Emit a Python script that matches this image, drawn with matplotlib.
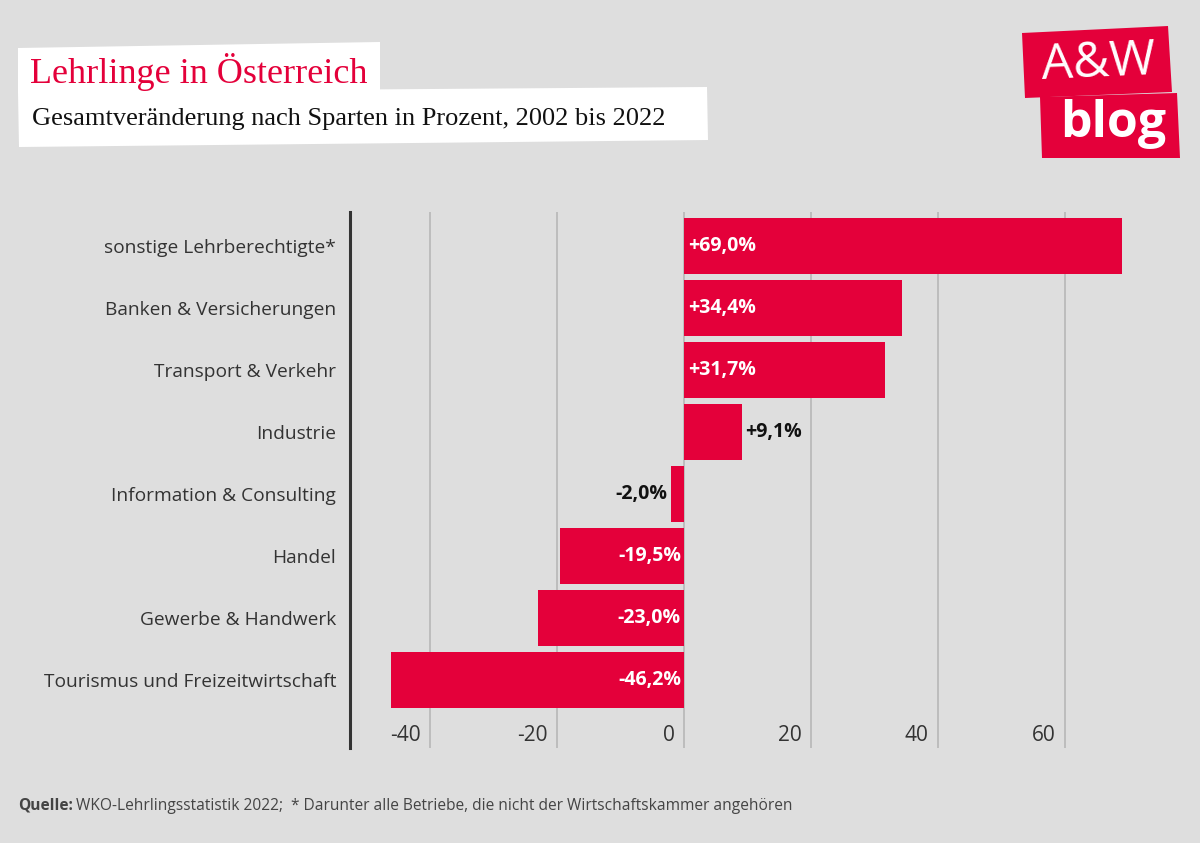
import numpy as np
import matplotlib.pyplot as plt
from matplotlib.patches import Polygon
from matplotlib.transforms import ScaledTranslation

# data
categories = [
    "sonstige Lehrberechtigte*", "Banken & Versicherungen", "Transport & Verkehr",
    "Industrie", "Information & Consulting", "Handel", "Gewerbe & Handwerk",
    "Tourismus und Freizeitwirtschaft",
]
values = [69.0, 34.4, 31.7, 9.1, -2.0, -19.5, -23.0, -46.2]
value_labels = ["+69,0%", "+34,4%", "+31,7%", "+9,1%", "-2,0%", "-19,5%", "-23,0%", "-46,2%"]
x_ticks = [-40, -20, 0, 20, 40, 60]

RED = "#e4003a"
BG = "#dedede"
W, H = 1200, 843
SANS = ["Open Sans", "DejaVu Sans"]

fig = plt.figure(figsize=(12, 8.43), dpi=100, facecolor=BG)
ax = fig.add_axes([350 / W, 1 - 748 / H, 791 / W, 536 / H])
ax.set_facecolor(BG)

ypos = np.arange(len(categories))
ax.barh(ypos, values, height=0.9, color=RED, zorder=3)
ax.set_xlim(-52.6, 72)
ax.set_ylim(8.09, -0.552)

ax.set_xticks(x_ticks)
ax.set_xticklabels([])
ax.tick_params(axis="x", length=0)
ax.xaxis.grid(True, color="#bdbdbd", lw=1.4, zorder=0)
ax.set_axisbelow(True)

ax.set_yticks(ypos)
ax.set_yticklabels(categories, fontsize=13.8, color="#333333", family=SANS)
ax.tick_params(axis="y", length=0, pad=10)

for s in ["top", "right", "bottom"]:
    ax.spines[s].set_visible(False)
ax.spines["left"].set_color("#333333")
ax.spines["left"].set_linewidth(2.2)

# x tick labels sit inside the plot, right of the label = grid line
for t in x_ticks:
    ax.text(t, 0.024, str(t), transform=ax.get_xaxis_transform()
            + ScaledTranslation(-9 / 100, 0, fig.dpi_scale_trans),
            ha="right", va="center", fontsize=15, color="#333333", family=SANS)

# value labels
for y, v, lab in zip(ypos, values, value_labels):
    inside = abs(v) > 15
    if v >= 0:
        x0, dx, ha = (0, 4, "left") if inside else (v, 3, "left")
    else:
        x0, dx, ha = (0, -3, "right") if inside else (v, -4, "right")
    ax.text(x0, y, lab, ha=ha, va="center", fontsize=14, fontweight="bold",
            family=SANS, color="white" if inside else "#111111",
            transform=ax.transData + ScaledTranslation(dx / 100, 0, fig.dpi_scale_trans),
            zorder=5)


def px_poly(pts, color):
    xy = [(x / W, 1 - y / H) for x, y in pts]
    fig.patches.append(Polygon(xy, closed=True, transform=fig.transFigure,
                               facecolor=color, edgecolor="none", zorder=0))


# title boxes
px_poly([(18, 48), (380, 42), (380, 93), (18, 93)], "white")
px_poly([(18, 92), (707, 87), (708, 140), (19, 147)], "white")
fig.text(30 / W, 1 - 83 / H, "Lehrlinge in Österreich", fontsize=26, color=RED,
         family="Liberation Serif", va="baseline")
fig.text(32 / W, 1 - 125 / H, "Gesamtveränderung nach Sparten in Prozent, 2002 bis 2022",
         fontsize=19, color="#111111", family="Liberation Serif", va="baseline")

# logo
px_poly([(1022, 33), (1168, 26), (1172, 92), (1025, 98)], RED)
px_poly([(1040, 97), (1177, 93), (1180, 158), (1042, 158)], RED)
fig.text(1098 / W, 1 - 64 / H, "A&W", fontsize=36, color="white", family=SANS,
         ha="center", va="center", rotation=2.5)
fig.text(1113 / W, 1 - 124 / H, "blog", fontsize=36, color="white", family=SANS,
         fontweight="bold", ha="center", va="center")

# footer
fig.text(18 / W, 1 - 810 / H, "Quelle:", fontsize=11.2, fontweight="bold", color="#444444",
         family=SANS, va="baseline")
fig.text(76 / W, 1 - 810 / H,
         "WKO-Lehrlingsstatistik 2022;  * Darunter alle Betriebe, die nicht der Wirtschaftskammer angehören",
         fontsize=11.2, color="#444444", family=SANS, va="baseline")

fig.savefig("out.png", dpi=100, facecolor=BG)
